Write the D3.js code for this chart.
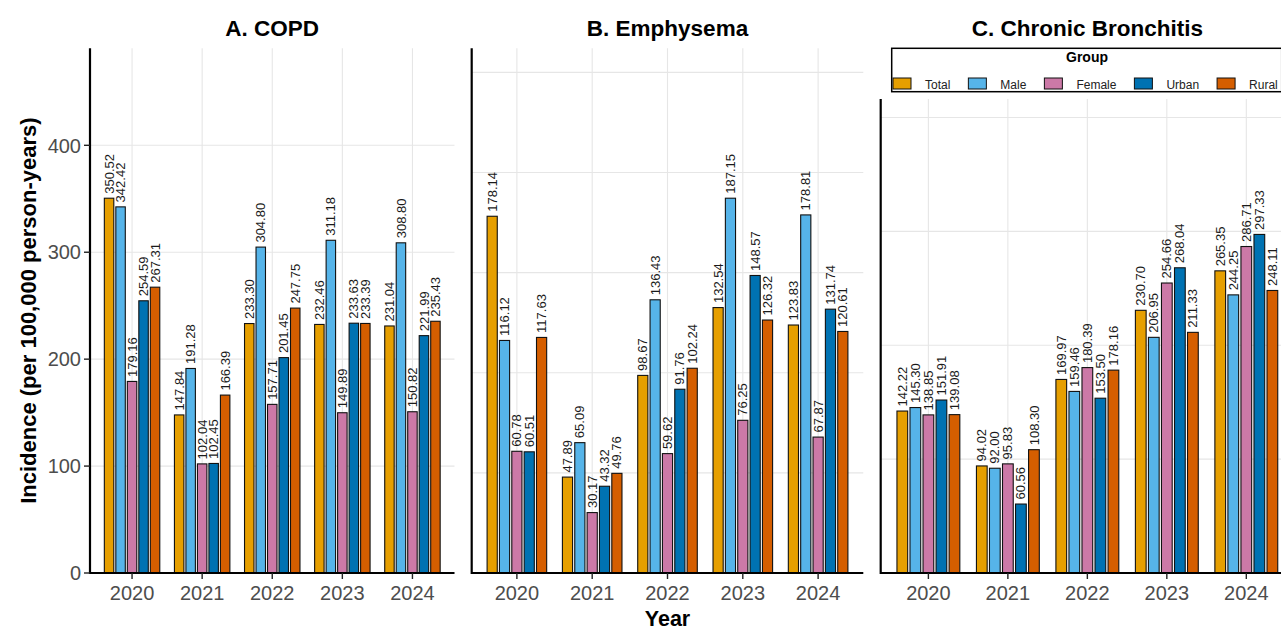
<!DOCTYPE html>
<html>
<head>
<meta charset="utf-8">
<script src="https://cdn.jsdelivr.net/npm/d3@7"></script>
<style>
  body { margin: 0; background: #fff; }
  svg { display: block; font-family: "Liberation Sans", Arial, sans-serif; }
</style>
</head>
<body>
<div id="chart"></div>
<script>
var years = ["2020", "2021", "2022", "2023", "2024"];
var groups = ["Total", "Male", "Female", "Urban", "Rural"];
var colors = ["#E69F00", "#56B4E9", "#CC79A7", "#0072B2", "#D55E00"];

// one row per year, values in the order of groups
var copd = [
  [350.52, 342.42, 179.16, 254.59, 267.31],
  [147.84, 191.28, 102.04, 102.45, 166.39],
  [233.30, 304.80, 157.71, 201.45, 247.75],
  [232.46, 311.18, 149.89, 233.63, 233.39],
  [231.04, 308.80, 150.82, 221.99, 235.43]
];
var emphysema = [
  [178.14, 116.12, 60.78, 60.51, 117.63],
  [47.89, 65.09, 30.17, 43.32, 49.76],
  [98.67, 136.43, 59.62, 91.76, 102.24],
  [132.54, 187.15, 76.25, 148.57, 126.32],
  [123.83, 178.81, 67.87, 131.74, 120.61]
];
var bronchitis = [
  [142.22, 145.30, 138.85, 151.91, 139.08],
  [94.02, 92.00, 95.83, 60.56, 108.30],
  [169.97, 159.46, 180.39, 153.50, 178.16],
  [230.70, 206.95, 254.66, 268.04, 211.33],
  [265.35, 244.25, 286.71, 297.33, 248.11]
];
var titles = ["A. COPD", "B. Emphysema", "C. Chronic Bronchitis"];
var yTicksA = [0, 100, 200, 300, 400];

var W = 1284, H = 631, base = 573;
var panels = [
  {data: copd, x0: 90, x1: 454.5, top: 48.3, yaxis: true},
  {data: emphysema, x0: 471.7, x1: 863.3, top: 48.3, yaxis: false},
  {data: bronchitis, x0: 880.7, x1: 1294, top: 99, yaxis: false}
];

var svg = d3.select("#chart").append("svg")
  .attr("width", W).attr("height", H);

svg.append("clipPath").attr("id", "cut")
  .append("rect").attr("x", 0).attr("y", 0).attr("width", 1281).attr("height", H);

var root = svg.append("g").attr("clip-path", "url(#cut)");

panels.forEach(function(p, i) {
  var g = root.append("g");
  var rows = [];
  p.data.forEach(function(vals, yi) {
    vals.forEach(function(v, gi) { rows.push({year: years[yi], group: groups[gi], gi: gi, value: v}); });
  });
  var maxV = d3.max(rows, function(d) { return d.value; });

  // discrete axis with 0.6 expansion each side (ggplot style)
  var x = d3.scalePoint().domain(years).range([p.x0, p.x1]).padding(0.6);
  var step = x.step();
  var cx = function(yr) { return x(yr); };
  var xInner = d3.scaleBand().domain(groups).range([-0.41 * step, 0.41 * step]).padding(0);
  var barW = 0.135 * step;

  var y = d3.scaleLinear().domain([0, maxV * 1.4]).range([base, p.top]);
  var ticks = y.ticks(5).filter(function(t) { return t > 0; });

  // gridlines
  g.selectAll(".hg").data(ticks).enter().append("line")
    .attr("x1", p.x0).attr("x2", p.x1)
    .attr("y1", function(d) { return y(d); }).attr("y2", function(d) { return y(d); })
    .attr("stroke", "#e6e6e6").attr("stroke-width", 1.1);
  g.selectAll(".vg").data(years).enter().append("line")
    .attr("x1", cx).attr("x2", cx)
    .attr("y1", p.top).attr("y2", base)
    .attr("stroke", "#e6e6e6").attr("stroke-width", 1.1);

  // bars
  g.selectAll(".bar").data(rows).enter().append("rect")
    .attr("x", function(d) { return cx(d.year) + xInner(d.group) + xInner.bandwidth() / 2 - barW / 2; })
    .attr("y", function(d) { return y(d.value); })
    .attr("width", barW)
    .attr("height", function(d) { return base - y(d.value); })
    .attr("fill", function(d) { return colors[d.gi]; })
    .attr("stroke", "#111").attr("stroke-width", 1.1);

  // value labels
  g.selectAll(".lab").data(rows).enter().append("text")
    .attr("transform", function(d) {
      var bx = cx(d.year) + xInner(d.group) + xInner.bandwidth() / 2;
      return "translate(" + bx + "," + (y(d.value) - 4.5) + ") rotate(-90)";
    })
    .attr("dy", "0.35em")
    .attr("font-size", 13).attr("fill", "#1a1a1a")
    .text(function(d) { return d.value.toFixed(2); });

  // x axis
  g.append("line").attr("x1", p.x0).attr("x2", p.x1).attr("y1", base).attr("y2", base)
    .attr("stroke", "#000").attr("stroke-width", 2.2);
  g.selectAll(".xt").data(years).enter().append("line")
    .attr("x1", cx).attr("x2", cx).attr("y1", base).attr("y2", base + 6)
    .attr("stroke", "#222").attr("stroke-width", 1.4);
  g.selectAll(".xl").data(years).enter().append("text")
    .attr("x", cx).attr("y", 600)
    .attr("text-anchor", "middle").attr("font-size", 20).attr("fill", "#4d4d4d")
    .text(function(d) { return d; });

  // y axis
  g.append("line").attr("x1", p.x0).attr("x2", p.x0).attr("y1", p.top).attr("y2", base + 1.1)
    .attr("stroke", "#000").attr("stroke-width", 2.2);
  if (p.yaxis) {
    g.selectAll(".yt").data(yTicksA).enter().append("line")
      .attr("x1", p.x0 - 6).attr("x2", p.x0)
      .attr("y1", function(d) { return y(d); }).attr("y2", function(d) { return y(d); })
      .attr("stroke", "#222").attr("stroke-width", 1.4);
    g.selectAll(".yl").data(yTicksA).enter().append("text")
      .attr("x", p.x0 - 9).attr("y", function(d) { return y(d); })
      .attr("dy", "0.36em")
      .attr("text-anchor", "end").attr("font-size", 20).attr("fill", "#4d4d4d")
      .text(function(d) { return d; });
  }

  // panel title
  g.append("text")
    .attr("x", (p.x0 + p.x1) / 2).attr("y", 36)
    .attr("text-anchor", "middle").attr("font-size", 22.5).attr("font-weight", "bold")
    .text(titles[i]);
});

// axis titles
svg.append("text")
  .attr("transform", "translate(36," + (base + 48.3) / 2 + ") rotate(-90)")
  .attr("text-anchor", "middle").attr("font-size", 22).attr("font-weight", "bold")
  .text("Incidence (per 100,000 person-years)");
svg.append("text")
  .attr("x", (471.7 + 863.3) / 2).attr("y", 626)
  .attr("text-anchor", "middle").attr("font-size", 21.5).attr("font-weight", "bold")
  .text("Year");

// legend above panel C
var leg = root.append("g");
leg.append("rect").attr("x", 891.7).attr("y", 48.3).attr("width", 390).attr("height", 43.4)
  .attr("fill", "#fff").attr("stroke", "#000").attr("stroke-width", 1.5);
leg.append("text").attr("x", 1087).attr("y", 62)
  .attr("text-anchor", "middle").attr("font-size", 14).attr("font-weight", "bold")
  .text("Group");
var lx = 893;
groups.forEach(function(gname, gi) {
  leg.append("rect").attr("x", lx).attr("y", 78).attr("width", 18).attr("height", 11)
    .attr("fill", colors[gi]).attr("stroke", "#111").attr("stroke-width", 1);
  var t = leg.append("text").attr("x", lx + 32).attr("y", 88.5)
    .attr("font-size", 12).attr("fill", "#222").text(gname);
  lx += 32 + t.node().getComputedTextLength() + 18;
});
</script>
</body>
</html>
